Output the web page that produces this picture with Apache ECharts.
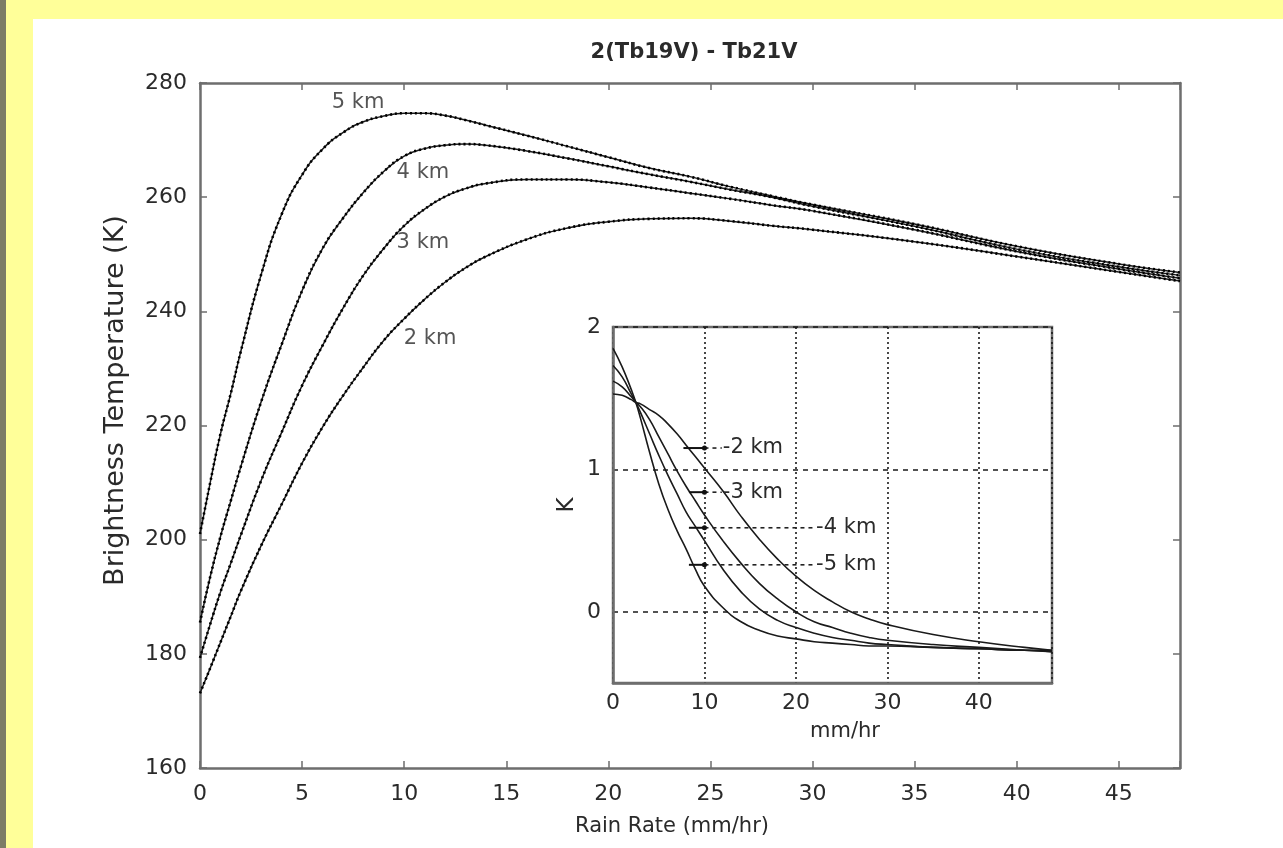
<!DOCTYPE html>
<html><head><meta charset="utf-8">
<script src="https://cdn.jsdelivr.net/npm/echarts@6/dist/echarts.min.js"></script>
<style>
html,body{margin:0;padding:0;width:1283px;height:848px;overflow:hidden;background:#FFFF99;}
#strip{position:absolute;left:0;top:0;width:6px;height:848px;background:#7d7d66;}
#panel{position:absolute;left:33px;top:19px;width:1250px;height:829px;background:#fff;}
#chart{position:absolute;left:0;top:0;width:1283px;height:848px;}
</style></head><body>
<div id="strip"></div><div id="panel"></div><div id="chart"></div>
<script>
// ---------- DATA ----------
const titleText = '2(Tb19V) - Tb21V';
const mainXName = 'Rain Rate (mm/hr)';
const mainYName = 'Brightness Temperature (K)';
const insetXName = 'mm/hr';
const insetYName = 'K';
const heights = ['5 km', '4 km', '3 km', '2 km'];

const mainRain = [0,0.5,1,1.5,2,3,4,5,6,7,8,9,10,11,12,13,14,16,18,20,22,24,26,28,30,35,40,45,48];
const tb5km = [201,210,218.5,225.5,233,246.5,257,263.9,268.4,271.3,273.2,274.2,274.7,274.7,274.3,273.5,272.6,270.8,268.9,267,265.1,263.6,261.8,260.2,258.7,255.3,251.4,248.3,246.8];
const tb4km = [185.5,193.5,200.5,206.7,212.8,224.2,234.2,243.6,251,256.3,260.8,264.5,267.2,268.5,269.1,269.3,269.1,268.1,266.8,265.4,264,262.7,261.3,260,258.4,254.9,250.9,247.8,246.3];
const tb3km = [179.3,185.2,190.8,195.8,200.8,210.4,218.8,227,234,240.5,246.3,251,255,257.9,260.1,261.5,262.4,263.1,263.1,262.6,261.7,260.7,259.7,258.6,257.6,254.3,250.5,247.4,245.8];
const tb2km = [173.1,177.5,182,186.5,191,199,206.2,213.4,219.7,225.2,230.2,234.9,238.7,242.1,245.1,247.6,249.6,252.6,254.6,255.7,256.2,256.3,255.8,255,254.3,252.2,249.6,246.9,245.3];

const insetRain = [0,1,2,2.5,3,4,5,6,7,8,9,10,12,14,16,18,20,22,24,26,28,30,35,40,45,48];
const dk5km = [1.85,1.72,1.56,1.47,1.36,1.12,0.9,0.72,0.57,0.44,0.3,0.18,0.03,-0.07,-0.13,-0.17,-0.19,-0.21,-0.22,-0.23,-0.24,-0.24,-0.25,-0.26,-0.27,-0.27];
const dk4km = [1.73,1.65,1.53,1.47,1.40,1.25,1.1,0.96,0.83,0.7,0.6,0.5,0.3,0.14,0.02,-0.06,-0.11,-0.15,-0.18,-0.2,-0.22,-0.23,-0.25,-0.26,-0.27,-0.28];
const dk3km = [1.62,1.58,1.51,1.47,1.44,1.35,1.23,1.11,0.99,0.88,0.78,0.68,0.5,0.34,0.2,0.09,0.0,-0.07,-0.11,-0.15,-0.18,-0.2,-0.23,-0.25,-0.27,-0.28];
const dk2km = [1.53,1.52,1.49,1.47,1.46,1.42,1.38,1.32,1.25,1.17,1.09,1.01,0.85,0.67,0.51,0.37,0.25,0.15,0.07,0.0,-0.05,-0.09,-0.16,-0.21,-0.25,-0.27];

// main curve labels (data coords)
const mainLabelX = [7.74, 10.92, 10.92, 11.27];
const mainLabelY = [276.5, 264.4, 252.0, 235.2];

// inset legend-like labels: [2 km, 3 km, 4 km, 5 km]
const insetLabelText = ['-2 km', '-3 km', '-4 km', '-5 km'];
const insetLabelY = [1.15, 0.84, 0.59, 0.33];
const insetLeadStart = [7.7, 8.3, 8.3, 8.3];
const insetLeadMark = [10, 10, 10, 10];
const insetLeadEnd = [11.9, 11.9, 22.1, 22.1];

// ticks
const mainXTicks = [0,5,10,15,20,25,30,35,40,45];
const mainYTicks = [160,180,200,220,240,260,280];
const insetXTicks = [0,10,20,30,40];
const insetYTicks = [0,1,2];

// ---------- CHART ----------
const FONT = 'DejaVu Sans';
const TXT = '#2a2a2a';
const AX = '#6e6e6e';
const zip = (xs, ys) => xs.map((x, i) => [x, ys[i]]);

const chart = echarts.init(document.getElementById('chart'));

const axCommon = (extra) => Object.assign({
  type: 'value',
  axisLine: { show: true, onZero: false, lineStyle: { color: AX, width: 2.5 } },
  axisTick: { show: true, inside: true, length: 7, lineStyle: { color: AX, width: 1.5 } },
  splitLine: { show: false },
  axisLabel: { show: false }
}, extra);

const labelStyle = { fontFamily: FONT, fontSize: 22, color: TXT };

const mainSeries = [tb5km, tb4km, tb3km, tb2km];
const insetSeries = [dk5km, dk4km, dk3km, dk2km];

const series = [];
mainSeries.forEach((vals, i) => {
  series.push({
    type: 'line', name: heights[i], xAxisIndex: 0, yAxisIndex: 0,
    data: zip(mainRain, vals), showSymbol: false, smooth: 0.5,
    lineStyle: { color: '#1a1a1a', width: 1.5 }, z: 3
  });
  series.push({
    type: 'line', name: heights[i] + ' approx', xAxisIndex: 0, yAxisIndex: 0,
    data: zip(mainRain, vals), showSymbol: false, smooth: 0.5,
    lineStyle: { color: '#000', width: 2.6, type: [2, 3] }, z: 4
  });
});
series.push({
  type: 'scatter', xAxisIndex: 0, yAxisIndex: 0, symbolSize: 0, silent: true,
  data: heights.map((h, i) => ({ value: [mainLabelX[i], mainLabelY[i]], name: h })),
  label: { show: true, position: 'inside', formatter: p => p.name, fontFamily: FONT, fontSize: 21, color: TXT },
  z: 5
});
insetSeries.forEach((vals, i) => {
  series.push({
    type: 'line', name: 'diff ' + heights[i], xAxisIndex: 2, yAxisIndex: 2,
    data: zip(insetRain, vals), showSymbol: false, smooth: 0.5,
    lineStyle: { color: '#1a1a1a', width: 1.6 }, z: 6
  });
});
insetLabelText.forEach((t, i) => {
  const y = insetLabelY[i];
  series.push({
    type: 'line', xAxisIndex: 2, yAxisIndex: 2, silent: true,
    data: [[insetLeadStart[i], y], { value: [insetLeadMark[i], y], symbol: 'circle', symbolSize: 5 }],
    showSymbol: true, symbol: 'none', itemStyle: { color: '#111' },
    lineStyle: { color: '#111', width: 2 }, z: 7
  });
  series.push({
    type: 'line', xAxisIndex: 2, yAxisIndex: 2, silent: true,
    data: [[insetLeadMark[i], y], [insetLeadEnd[i], y]], showSymbol: false,
    lineStyle: { color: '#222', width: 1.6, type: [4, 4] }, z: 7,
    endLabel: { show: true, formatter: t, distance: 1, fontFamily: FONT, fontSize: 21, color: TXT }
  });
});

const option = {
  animation: false,
  backgroundColor: 'transparent',
  title: {
    text: titleText, left: 689, top: 37, textAlign: 'center',
    textStyle: { fontFamily: FONT, fontSize: 21, fontWeight: 'bold', color: TXT }
  },
  grid: [
    { left: 200, top: 83, width: 980, height: 685, outerBoundsMode: 'none', containLabel: false },
    { left: 613, top: 327, width: 439, height: 356, outerBoundsMode: 'none', containLabel: false,
      show: true, backgroundColor: '#fff', borderColor: AX, borderWidth: 2.5, z: 5 }
  ],
  xAxis: [
    axCommon({ gridIndex: 0, position: 'bottom', min: 0, max: 48, interval: 5,
      axisLabel: Object.assign({ show: true, margin: 15, formatter: v => mainXTicks.includes(v) ? String(v) : '' }, labelStyle),
      name: mainXName, nameLocation: 'middle', nameGap: 48,
      nameTextStyle: Object.assign({ padding: [0, 36, 0, 0] }, labelStyle, { fontSize: 21 }) }),
    axCommon({ gridIndex: 0, position: 'top', min: 0, max: 48, interval: 5 }),
    axCommon({ gridIndex: 1, position: 'bottom', min: 0, max: 48, interval: 10, z: 6,
      axisTick: { show: false },
      axisLabel: Object.assign({ show: true, margin: 9, formatter: v => insetXTicks.includes(v) ? String(v) : '' }, labelStyle),
      splitLine: { show: true, lineStyle: { color: '#1a1a1a', width: 1.6, type: [2, 3] } },
      name: insetXName, nameLocation: 'middle', nameGap: 38,
      nameTextStyle: Object.assign({ padding: [0, 0, 0, 25] }, labelStyle, { fontSize: 21 }) })
  ],
  yAxis: [
    axCommon({ gridIndex: 0, position: 'left', min: 160, max: 280, interval: 20,
      axisLabel: Object.assign({ show: true, margin: 13 }, labelStyle),
      name: mainYName, nameLocation: 'middle', nameGap: 71,
      nameTextStyle: Object.assign({ padding: [0, 0, 0, 50] }, labelStyle, { fontSize: 27 }) }),
    axCommon({ gridIndex: 0, position: 'right', min: 160, max: 280, interval: 20 }),
    axCommon({ gridIndex: 1, position: 'left', min: -0.5, max: 2, z: 6,
      axisTick: { show: false, customValues: insetYTicks },
      axisLabel: Object.assign({ show: true, margin: 12, customValues: insetYTicks }, labelStyle),
      splitLine: { show: true, lineStyle: { color: '#1a1a1a', width: 1.6, type: [5, 5] } },
      name: insetYName, nameLocation: 'middle', nameGap: 34,
      nameTextStyle: Object.assign({}, labelStyle, { fontSize: 23 }) })
  ],
  series: series
};
chart.setOption(option);
</script></body></html>
